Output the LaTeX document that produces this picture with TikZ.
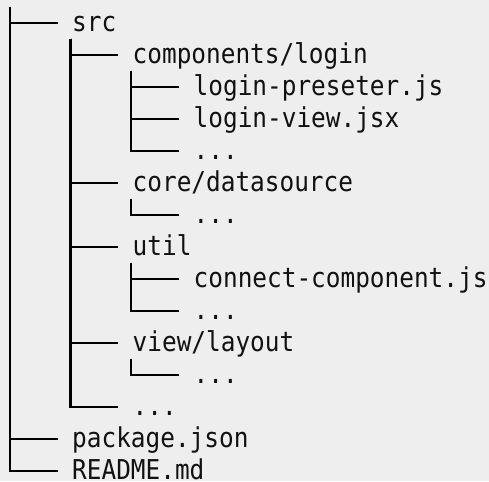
\documentclass[tikz,border=0pt]{standalone}
\usepackage{fontspec}
\setmonofont{DejaVu Sans Mono}
\definecolor{pagebg}{HTML}{EEEEEE}
\definecolor{ink}{HTML}{111111}
\newcommand{\tallmono}[1]{\scalebox{1}[1.12]{#1}}
\begin{document}
\begin{tikzpicture}[x=1pt,y=-1pt,
  entry/.style={anchor=west,inner xsep=0pt,inner ysep=0pt,text height=23pt,text depth=5pt,
    font=\ttfamily\fontsize{24.4}{28}\selectfont,text=ink},
  branch/.style={draw=black,line width=2.3pt,line join=miter,shorten >=14.5pt}]
\fill[pagebg] (0,0) rectangle (489,481);
\useasboundingbox (0,0) rectangle (489,481);
% rows are 32pt apart, first row at 22.7
\node[entry] (src)   at (72,    22.7) {\tallmono{src}};
\node[entry] (comp)  at (132.5, 54.7) {\tallmono{components/login}};
\node[entry] (pres)  at (193.5, 86.7) {\tallmono{login-preseter.js}};
\node[entry] (view)  at (193.5,118.7) {\tallmono{login-view.jsx}};
\node[entry] (compx) at (193.5,150.7) {\tallmono{...}};
\node[entry] (core)  at (132.5,182.7) {\tallmono{core/datasource}};
\node[entry] (corex) at (193.5,214.7) {\tallmono{...}};
\node[entry] (util)  at (132.5,246.7) {\tallmono{util}};
\node[entry] (conn)  at (193.5,278.7) {\tallmono{connect-component.js}};
\node[entry] (utilx) at (193.5,310.7) {\tallmono{...}};
\node[entry] (lay)   at (132.5,342.7) {\tallmono{view/layout}};
\node[entry] (layx)  at (193.5,374.7) {\tallmono{...}};
\node[entry] (srcx)  at (132.5,406.7) {\tallmono{...}};
\node[entry] (pkg)   at (72,   438.7) {\tallmono{package.json}};
\node[entry] (read)  at (72,   470.7) {\tallmono{README.md}};
% trunk tops, just below each parent entry
\coordinate (t-root) at (10,7);
\foreach \p in {src,comp,core,util,lay}
  \coordinate (t-\p) at ([xshift=-1.5pt,yshift=-16pt]\p.west);
% branches
\foreach \c in {src,pkg,read} \draw[branch] (t-root) |- (\c.west);
\foreach \c in {comp,core,util,lay,srcx} \draw[branch] (t-src) |- (\c.west);
\foreach \c in {pres,view,compx} \draw[branch] (t-comp) |- (\c.west);
\draw[branch] (t-core) |- (corex.west);
\foreach \c in {conn,utilx} \draw[branch] (t-util) |- (\c.west);
\draw[branch] (t-lay) |- (layx.west);
\end{tikzpicture}
\end{document}
